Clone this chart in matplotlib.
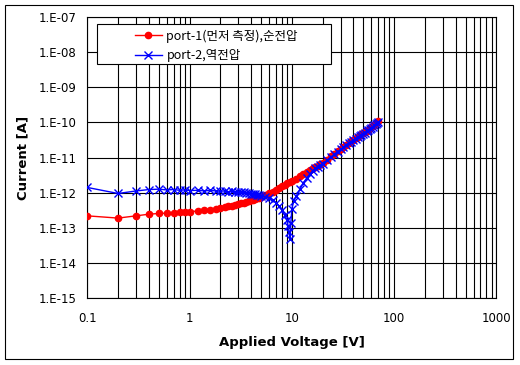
import matplotlib
matplotlib.use("Agg")
import matplotlib.pyplot as plt
from matplotlib.patches import Rectangle
from matplotlib.ticker import FixedLocator, LogLocator, NullFormatter

# port-1 (forward), voltage [V] / current [A]
v_fwd = [0.1, 0.2, 0.3, 0.4, 0.5, 0.6, 0.7, 0.8, 0.9,
         1.0, 1.2, 1.4, 1.6, 1.8, 2.0, 2.2, 2.4, 2.6, 2.8, 3.0,
         3.2, 3.4, 3.6, 3.8, 4.0, 4.2, 4.4, 4.6, 4.8, 5.0,
         5.5, 6.0, 6.5, 7.0, 7.5, 8.0, 8.5, 9.0, 9.5,
         10, 11, 12, 13, 14, 15, 16, 17, 18, 19,
         20, 22, 24, 26, 28, 30, 32, 34, 36, 38, 40, 42, 44, 46, 48,
         50, 52, 54, 56, 58, 60, 62, 64, 66, 68, 70]
i_fwd = [2.2e-13, 1.9e-13, 2.2e-13, 2.45e-13, 2.57e-13, 2.63e-13, 2.69e-13, 2.75e-13, 2.82e-13,
         2.88e-13, 3.02e-13, 3.16e-13, 3.31e-13, 3.47e-13, 3.63e-13, 3.80e-13, 4.07e-13, 4.27e-13, 4.47e-13, 4.79e-13,
         5.01e-13, 5.25e-13, 5.50e-13, 5.75e-13, 6.03e-13, 6.31e-13, 6.61e-13, 6.92e-13, 7.24e-13, 7.59e-13,
         8.51e-13, 9.55e-13, 1.07e-12, 1.20e-12, 1.35e-12, 1.51e-12, 1.70e-12, 1.86e-12, 2.0e-12,
         2.14e-12, 2.51e-12, 2.95e-12, 3.39e-12, 3.89e-12, 4.37e-12, 4.90e-12, 5.37e-12, 5.89e-12, 6.4e-12,
         6.92e-12, 8.71e-12, 1.07e-11, 1.29e-11, 1.51e-11, 1.78e-11, 2.04e-11, 2.34e-11, 2.63e-11, 2.95e-11,
         3.24e-11, 3.55e-11, 3.89e-11, 4.27e-11, 4.57e-11,
         5.01e-11, 5.37e-11, 5.75e-11, 6.17e-11, 6.76e-11, 7.24e-11, 7.76e-11, 8.51e-11, 9.33e-11, 1.0e-10, 1.10e-10]

# port-2 (reverse)
v_rev = [0.1, 0.2, 0.3, 0.4, 0.5, 0.6, 0.7, 0.8, 0.9,
         1.0, 1.2, 1.4, 1.6, 1.8, 2.0, 2.2, 2.4, 2.6, 2.8, 3.0,
         3.2, 3.4, 3.6, 3.8, 4.0, 4.2, 4.4, 4.6, 4.8, 5.0,
         5.5, 6.0, 6.5, 7.0, 7.5, 8.0, 8.5, 9.0, 9.2, 9.4, 9.6, 9.8,
         10, 10.5, 11, 12, 13, 14, 15, 16, 17, 18, 19,
         20, 22, 24, 26, 28, 30, 32, 34, 36, 38, 40, 42, 44, 46, 48,
         50, 52, 54, 56, 58, 60, 62, 64, 66, 68, 70]
i_rev = [1.41e-12, 9.5e-13, 1.12e-12, 1.23e-12, 1.26e-12, 1.20e-12, 1.23e-12, 1.17e-12, 1.20e-12,
         1.15e-12, 1.17e-12, 1.12e-12, 1.17e-12, 1.12e-12, 1.10e-12, 1.12e-12, 1.07e-12, 1.10e-12, 1.07e-12, 1.05e-12,
         1.07e-12, 1.02e-12, 1.00e-12, 9.8e-13, 9.3e-13, 9.3e-13, 8.9e-13, 8.7e-13, 8.5e-13, 8.1e-13,
         7.6e-13, 7.1e-13, 6.3e-13, 5.2e-13, 4.2e-13, 3.2e-13, 2.3e-13, 1.66e-13, 1.12e-13, 7.9e-14, 4.7e-14, 1.41e-13,
         3.5e-13, 6.0e-13, 7.8e-13, 1.26e-12, 1.91e-12, 2.63e-12, 3.39e-12, 4.17e-12, 4.90e-12, 5.50e-12, 6.0e-12,
         6.6e-12, 8.3e-12, 1.02e-11, 1.23e-11, 1.45e-11, 1.70e-11, 1.95e-11, 2.24e-11, 2.51e-11, 2.82e-11,
         3.09e-11, 3.39e-11, 3.72e-11, 4.07e-11, 4.37e-11,
         4.79e-11, 5.13e-11, 5.50e-11, 5.89e-11, 6.46e-11, 6.92e-11, 7.41e-11, 8.13e-11, 8.91e-11, 9.55e-11, 1.05e-10]

x_ticks = [0.1, 1, 10, 100, 1000]
x_tick_labels = ["0.1", "1", "10", "100", "1000"]
y_ticks = [1e-15, 1e-14, 1e-13, 1e-12, 1e-11, 1e-10, 1e-9, 1e-8, 1e-7]
y_tick_labels = ["1.E-15", "1.E-14", "1.E-13", "1.E-12", "1.E-11",
                 "1.E-10", "1.E-09", "1.E-08", "1.E-07"]
labels = ["port-1(먼저 측정),순전압", "port-2,역전압"]

W, H = 520, 365
fig = plt.figure(figsize=(W / 100, H / 100), dpi=100)
ax = fig.add_axes([87.3 / W, 1 - 298.3 / H, (496.3 - 87.3) / W, (298.3 - 16.7) / H])

l1, = ax.plot(v_fwd, i_fwd, color="red", lw=1, marker="o", ms=4.5, mec="red", mfc="red", zorder=3)
l2, = ax.plot(v_rev, i_rev, color="blue", lw=1, marker="x", ms=5.2, mew=1, zorder=4)

ax.set_xscale("log")
ax.set_yscale("log")
ax.set_xlim(0.1, 1000)
ax.set_ylim(1e-15, 1e-7)

ax.xaxis.set_major_locator(FixedLocator(x_ticks))
ax.set_xticklabels(x_tick_labels)
ax.xaxis.set_minor_locator(LogLocator(base=10, subs=range(2, 10)))
ax.xaxis.set_minor_formatter(NullFormatter())
ax.yaxis.set_major_locator(FixedLocator(y_ticks))
ax.set_yticklabels(y_tick_labels)
ax.yaxis.set_minor_locator(FixedLocator([]))

ax.grid(which="major", axis="both", color="black", lw=0.8)
ax.grid(which="minor", axis="x", color="black", lw=0.8)
ax.set_axisbelow(True)
ax.tick_params(which="both", length=0, labelsize=8.5)
ax.tick_params(axis="x", pad=10)
ax.tick_params(axis="y", pad=8)
for s in ax.spines.values():
    s.set_color("black")
    s.set_linewidth(0.8)

ax.set_xlabel("Applied Voltage [V]", fontsize=9.5, fontweight="bold", labelpad=8)
ax.set_ylabel("Current [A]", fontsize=9.5, fontweight="bold", labelpad=6)

# legend box
fig.patches.append(Rectangle((96.7 / W, 1 - 64 / H), (330.7 - 96.7) / W, 40 / H,
                             transform=fig.transFigure, facecolor="white",
                             edgecolor="black", lw=0.8, zorder=5))
leg = fig.legend([l1, l2], labels, loc="upper left",
                 bbox_to_anchor=(127 / W, 1 - 22 / H), frameon=False,
                 prop={"family": ["Noto Sans CJK KR", "DejaVu Sans"], "size": 9},
                 handlelength=2.2, handletextpad=0.35, labelspacing=0.5,
                 borderpad=0.1)
leg.set_zorder(6)

# outer chart border
fig.patches.append(Rectangle((5 / W, 1 - 359 / H), 508 / W, 354 / H,
                             transform=fig.transFigure, fill=False,
                             edgecolor="black", lw=0.8))

fig.savefig("out.png", dpi=100)
